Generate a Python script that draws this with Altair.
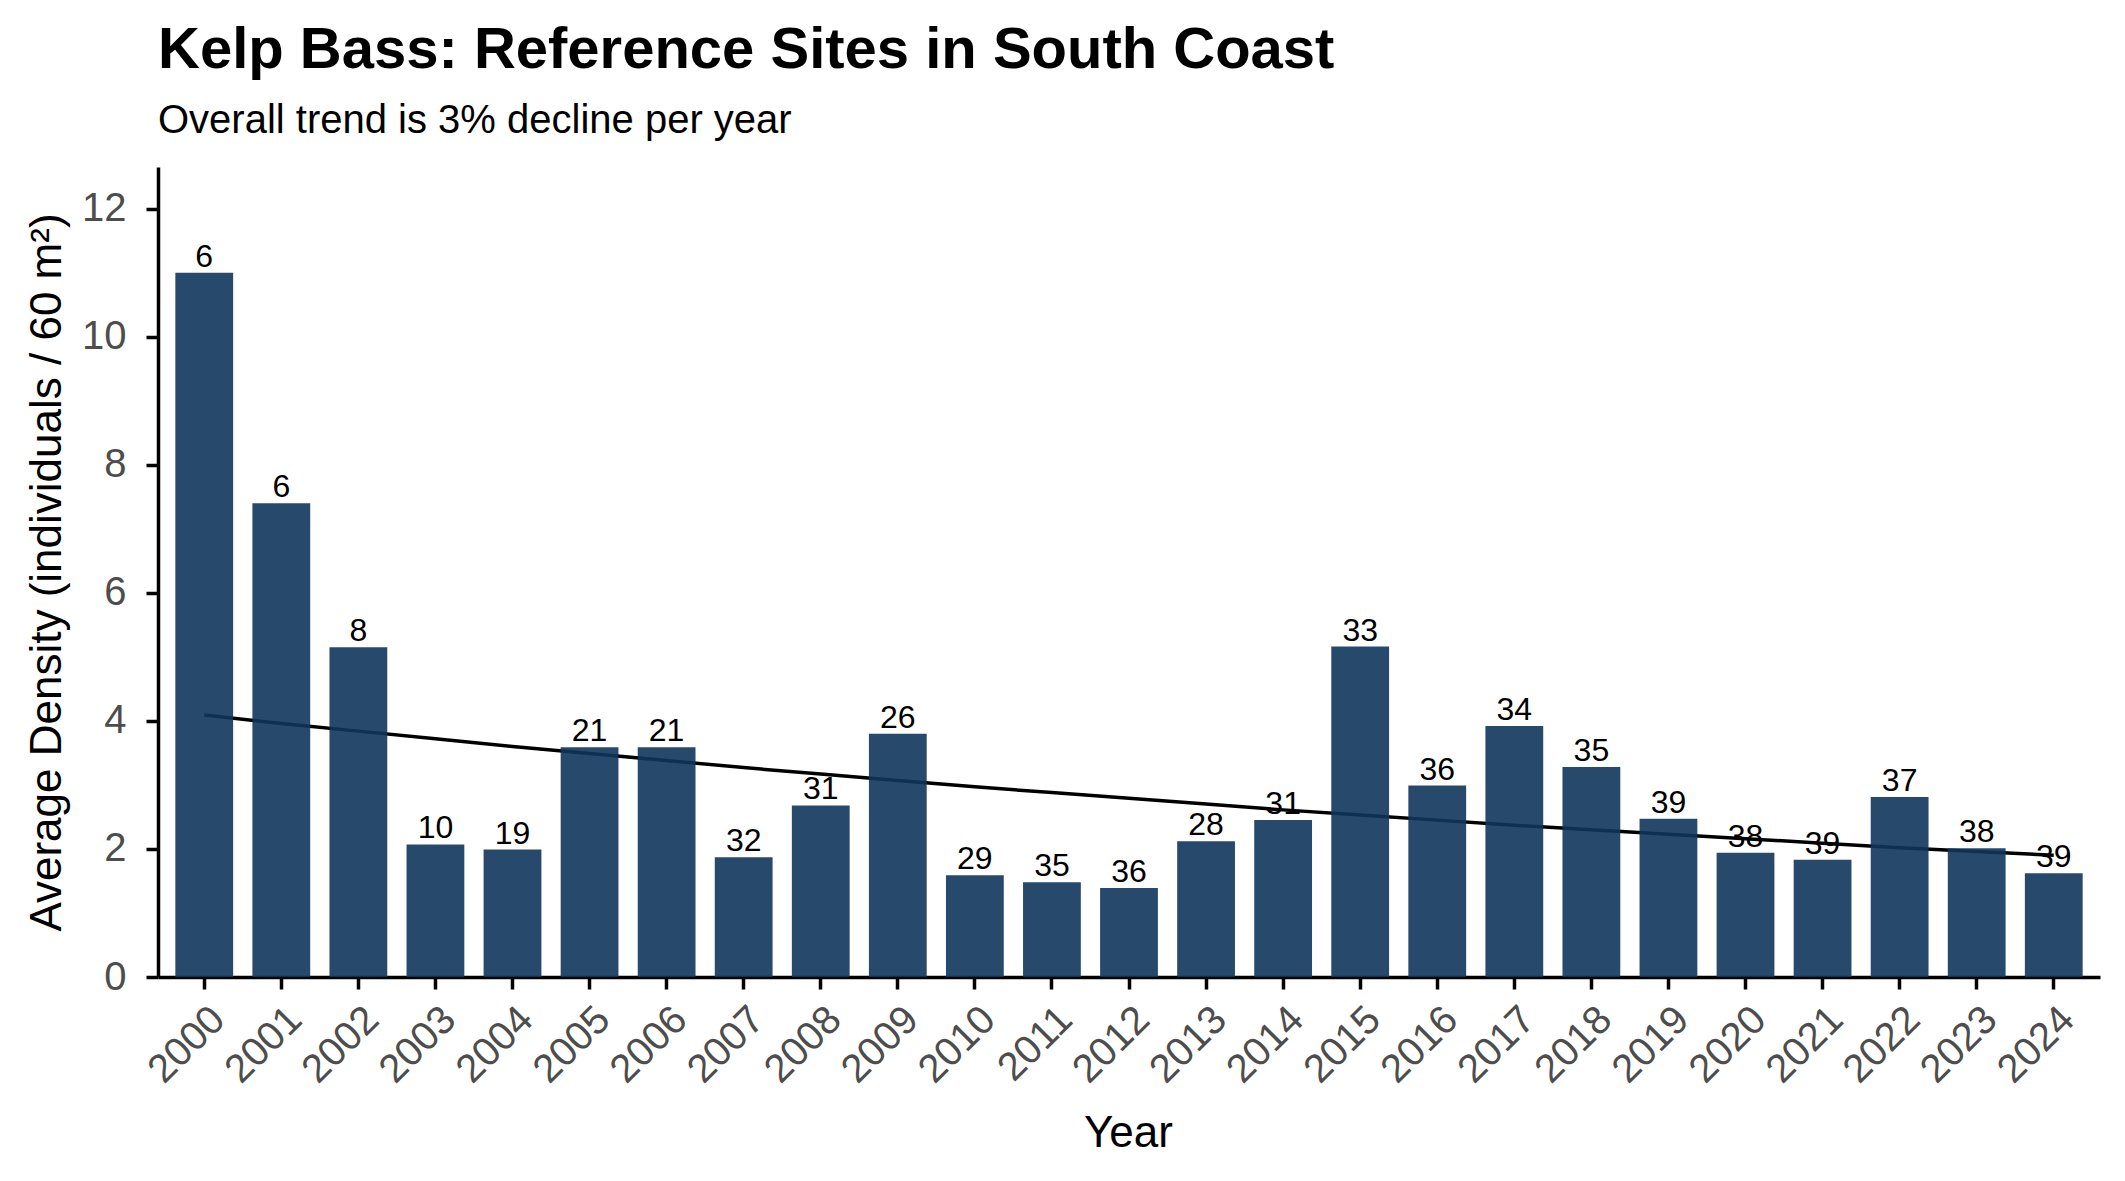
import altair as alt
import pandas as pd

years = ["2000", "2001", "2002", "2003", "2004", "2005", "2006", "2007", "2008",
         "2009", "2010", "2011", "2012", "2013", "2014", "2015", "2016", "2017",
         "2018", "2019", "2020", "2021", "2022", "2023", "2024"]
density = [11.0, 7.4, 5.15, 2.07, 1.99, 3.59, 3.59, 1.87, 2.68, 3.80, 1.59, 1.48,
           1.39, 2.12, 2.45, 5.16, 2.99, 3.92, 3.28, 2.47, 1.94, 1.83, 2.81, 2.01, 1.62]
n_sites = [6, 6, 8, 10, 19, 21, 21, 32, 31, 26, 29, 35, 36, 28, 31, 33, 36, 34, 35,
           39, 38, 39, 37, 38, 39]
trend = [4.09, 3.96, 3.84, 3.72, 3.60, 3.49, 3.38, 3.27, 3.17, 3.07, 2.97, 2.88,
         2.79, 2.70, 2.61, 2.53, 2.45, 2.37, 2.30, 2.23, 2.16, 2.09, 2.02, 1.96, 1.90]

df = pd.DataFrame({"year": years, "density": density, "sites": n_sites, "trend": trend})

FONT = "Liberation Sans"
Y_TITLE = "Average Density (individuals / 60 m²)"

x_enc = alt.X(
    "year:N",
    title="Year",
    scale=alt.Scale(paddingInner=0.25, paddingOuter=0.225),
    axis=alt.Axis(
        labelAngle=315, labelAlign="right", labelBaseline="top", labelPadding=10,
        labelFontSize=40, labelFont=FONT, labelColor="#4D4D4D",
        tickSize=12, tickWidth=3.5, tickColor="black",
        domainWidth=3.5, domainColor="black", grid=False,
        titleFont=FONT, titleFontSize=44, titleFontWeight="normal", titleColor="black",
        titleX=970, titleY=169, titleBaseline="alphabetic", titleAlign="center",
    ),
)

y_axis = alt.Axis(
    values=[0, 2, 4, 6, 8, 10, 12], grid=False,
    labelFontSize=40, labelFont=FONT, labelColor="#4D4D4D", labelPadding=20,
    tickSize=12, tickWidth=3.5, tickColor="black",
    domainWidth=3.5, domainColor="black",
    titleFont=FONT, titleFontSize=44, titleFontWeight="normal", titleColor="black",
    titleX=-98, titleY=405, titleAngle=270, titleBaseline="alphabetic", titleAlign="center",
)
y_scale = alt.Scale(domain=[0, 12.65], nice=False, zero=True)

base = alt.Chart(df).encode(x=x_enc)

line = base.mark_line(color="black", strokeWidth=3.5).encode(
    y=alt.Y("trend:Q", title=Y_TITLE, scale=y_scale, axis=y_axis)
)
bars = base.mark_bar(color="#0F355C", opacity=0.9).encode(
    y=alt.Y("density:Q", title=Y_TITLE, scale=y_scale, axis=y_axis)
)
labels = base.mark_text(baseline="alphabetic", dy=-6, fontSize=32, font=FONT, color="black").encode(
    y=alt.Y("density:Q", title=Y_TITLE, scale=y_scale, axis=y_axis),
    text="sites:Q",
)

chart = alt.layer(line, bars, labels).properties(
    width=1942,
    height=810,
    background="white",
    padding={"left": 158, "top": 167, "right": 25, "bottom": 204},
    autosize=alt.AutoSizeParams(type="none"),
    title=alt.TitleParams(
        "Kelp Bass: Reference Sites in South Coast",
        subtitle="Overall trend is 3% decline per year",
        anchor="start", frame="group",
        font=FONT, fontSize=58, fontWeight="bold", color="black",
        subtitleFont=FONT, subtitleFontSize=40, subtitleColor="black",
        subtitlePadding=21, offset=26,
    ),
).configure_view(stroke=None, strokeWidth=0)

chart.save("out.html", embed_options={"renderer": "svg", "actions": False})
